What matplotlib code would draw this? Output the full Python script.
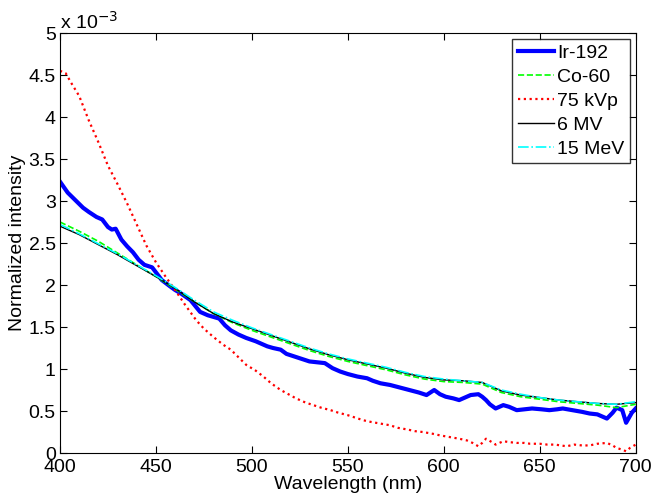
import matplotlib
matplotlib.use("Agg")
import matplotlib.pyplot as plt
import numpy as np

plt.rcParams['font.family'] = ['Liberation Sans', 'DejaVu Sans']

# values in units of 1e-3
nm_ir = [400, 404, 408, 412, 415, 419, 422, 425, 427, 429, 432, 435, 438, 441, 444, 448,
         450, 453, 457, 460, 463, 468, 473, 477, 480, 483, 486, 489, 493, 497, 502, 508,
         511, 515, 518, 522, 526, 530, 534, 538, 542, 546, 550, 555, 560, 563, 567, 572,
         577, 582, 587, 591, 593, 595, 598, 601, 605, 608, 611, 614, 618, 620, 622, 624,
         627, 631, 634, 638, 642, 646, 651, 655, 659, 662, 667, 672, 676, 680, 685, 688,
         690, 693, 695, 698, 700]
ir192 = [3.23, 3.10, 3.01, 2.92, 2.87, 2.81, 2.78, 2.69, 2.66, 2.67, 2.54, 2.46, 2.39, 2.30, 2.24, 2.21,
         2.15, 2.06, 1.99, 1.94, 1.90, 1.82, 1.68, 1.64, 1.62, 1.60, 1.52, 1.46, 1.41, 1.37, 1.33, 1.27,
         1.25, 1.23, 1.18, 1.15, 1.12, 1.09, 1.08, 1.07, 1.01, 0.97, 0.94, 0.91, 0.89, 0.86, 0.83, 0.81,
         0.78, 0.75, 0.72, 0.69, 0.72, 0.75, 0.70, 0.67, 0.65, 0.63, 0.66, 0.69, 0.70, 0.67, 0.63, 0.58,
         0.53, 0.57, 0.55, 0.51, 0.52, 0.53, 0.52, 0.51, 0.52, 0.53, 0.51, 0.49, 0.47, 0.46, 0.41, 0.48,
         0.54, 0.51, 0.36, 0.48, 0.53]

nm_kv = [400, 403, 406, 410, 415, 420, 425, 430, 435, 440, 445, 450, 455, 460, 465, 471,
         475, 480, 485, 489, 493, 497, 502, 506, 510, 515, 519, 523, 528, 532, 536, 541,
         545, 550, 554, 558, 562, 567, 572, 576, 581, 585, 589, 594, 598, 603, 608, 612,
         615, 618, 620, 622, 625, 627, 631, 634, 638, 642, 645, 650, 654, 658, 664, 668,
         672, 676, 680, 685, 688, 690, 693, 695, 697, 700]
kvp75 = [4.55, 4.52, 4.40, 4.25, 3.96, 3.70, 3.42, 3.20, 2.97, 2.72, 2.47, 2.27, 2.10, 1.94, 1.77, 1.58,
         1.48, 1.38, 1.29, 1.23, 1.14, 1.05, 0.98, 0.91, 0.83, 0.75, 0.70, 0.65, 0.60, 0.57, 0.54, 0.51,
         0.48, 0.45, 0.42, 0.39, 0.37, 0.35, 0.33, 0.30, 0.28, 0.26, 0.25, 0.23, 0.21, 0.19, 0.17, 0.15,
         0.12, 0.08, 0.12, 0.17, 0.13, 0.10, 0.14, 0.13, 0.12, 0.12, 0.11, 0.11, 0.10, 0.10, 0.08, 0.10,
         0.09, 0.09, 0.11, 0.12, 0.09, 0.06, 0.04, 0.02, 0.06, 0.10]

nm_smooth = [400, 410, 420, 430, 440, 450, 460, 470, 480, 490, 500, 510, 520, 530, 540, 550,
             560, 570, 580, 590, 600, 610, 620, 630, 640, 650, 660, 670, 680, 690, 700]
co60 = [2.75, 2.64, 2.52, 2.38, 2.24, 2.10, 1.95, 1.80, 1.66, 1.55, 1.46, 1.38, 1.30, 1.22, 1.15, 1.09,
        1.04, 0.99, 0.93, 0.88, 0.85, 0.84, 0.82, 0.72, 0.67, 0.64, 0.61, 0.59, 0.57, 0.54, 0.58]
mv6 = [2.70, 2.60, 2.48, 2.36, 2.23, 2.10, 1.96, 1.80, 1.66, 1.56, 1.48, 1.40, 1.32, 1.24, 1.17, 1.11,
       1.06, 1.01, 0.95, 0.90, 0.87, 0.86, 0.84, 0.74, 0.69, 0.66, 0.63, 0.61, 0.59, 0.58, 0.60]
mev15 = [2.72, 2.61, 2.49, 2.37, 2.24, 2.11, 1.97, 1.82, 1.68, 1.58, 1.49, 1.41, 1.33, 1.25, 1.18, 1.12,
         1.07, 1.02, 0.96, 0.91, 0.88, 0.86, 0.84, 0.75, 0.70, 0.66, 0.63, 0.61, 0.59, 0.58, 0.61]

fig = plt.figure(figsize=(6.55, 5.04), dpi=100)
ax = fig.add_axes([60/655, 51/504, 575.7/655, 420/504])

ax.plot(nm_ir, ir192, color='#0000ff', lw=3, label='Ir-192')
ax.plot(nm_smooth, co60, color='#00ff00', lw=1.2, ls='--', label='Co-60')
ax.plot(nm_kv, kvp75, color='#ff0000', lw=1.6, ls=(0, (1, 1.6)), label='75 kVp')
ax.plot(nm_smooth, mv6, color='black', lw=1.0, label='6 MV')
ax.plot(nm_smooth, mev15, color='#00ffff', lw=1.2, ls='-.', label='15 MeV')

ax.set_xlim(400, 700)
ax.set_ylim(0, 5)
ax.set_xticks(np.arange(400, 701, 50))
ax.set_yticks(np.arange(0, 5.01, 0.5))
ax.set_yticklabels(['0', '0.5', '1', '1.5', '2', '2.5', '3', '3.5', '4', '4.5', '5'])
ax.tick_params(direction='in', top=True, right=True, labelsize=14, length=5, width=0.8)
ax.tick_params(axis='x', pad=4)
ax.tick_params(axis='y', pad=3)
for s in ax.spines.values():
    s.set_linewidth(0.8)

ax.set_xlabel('Wavelength (nm)', fontsize=14, labelpad=0)
ax.set_ylabel('Normalized intensity', fontsize=14, labelpad=2)
ax.text(0.0, 1.0, 'x 10$^{-3}$', transform=ax.transAxes, fontsize=14, ha='left', va='bottom')

ax.legend(loc='upper right', fontsize=14, frameon=True, fancybox=False, edgecolor='black',
          handlelength=1.85, handletextpad=0.15, labelspacing=0.32, borderpad=0.3,
          borderaxespad=0.3)

plt.savefig('out.png', dpi=100)
